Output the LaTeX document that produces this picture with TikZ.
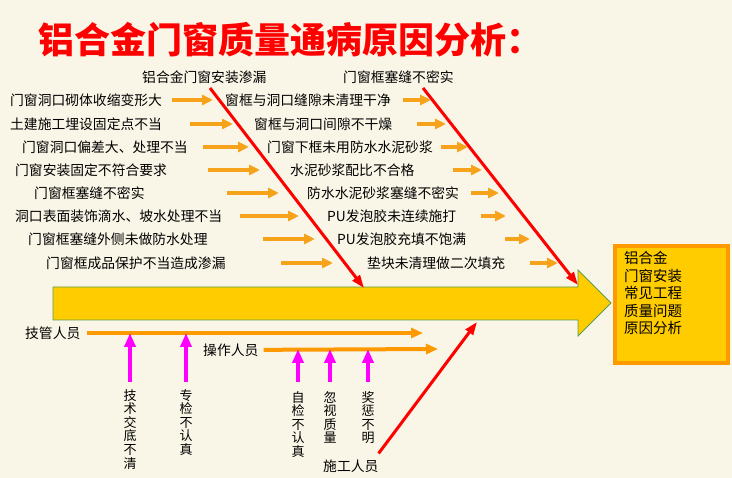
\documentclass[tikz,border=0pt]{standalone}
\usepackage{fontspec}
\setmainfont{Noto Sans CJK SC}
\usetikzlibrary{arrows.meta,positioning}
\definecolor{bgcream}{HTML}{FAF6E7}
\definecolor{boneorange}{HTML}{F7A21B}
\definecolor{lineorange}{HTML}{FF9900}
\definecolor{spineyellow}{HTML}{FFCC00}
\definecolor{spinegreen}{HTML}{5C9E4A}
\definecolor{checkpink}{HTML}{FF00FF}
\newcommand\tightlines{\lineskiplimit-10pt\lineskip0pt\relax}
\tikzset{
  cause/.style={font=\fontsize{13.8}{16}\selectfont, inner sep=0pt, anchor=west},
  causearrow/.style={draw=boneorange, line width=3.5pt, -{Triangle[length=11pt,width=10pt]}},
  bone/.style={draw=red, line width=3pt, -{Triangle[length=13pt,width=9pt]}},
  staffline/.style={draw=lineorange, line width=4pt, -{Triangle[length=12pt,width=10pt]}},
  checkarrow/.style={draw=checkpink, line width=4.5pt, -{Triangle[length=14pt,width=11pt]}},
  vlabel/.style={font=\fontsize{13}{13.6}\selectfont\tightlines, inner sep=0pt, align=center, anchor=north},
}
\begin{document}
\begin{tikzpicture}[x=1pt,y=-1pt]
  \fill[bgcream] (0,0) rectangle (732,478);
  \useasboundingbox (0,0) rectangle (732,478);

  % title
  \node[anchor=west, inner sep=0pt, text=red, font=\fontsize{36}{40}\selectfont\bfseries] (title) at (38,40) {铝合金门窗质量通病原因分析：};

  % main bone
  \draw[fill=spineyellow, draw=spinegreen, line width=0.8pt]
    (53,287) -- (578,287) -- (578,270) -- (611,303) -- (578,336) -- (578,320) -- (53,320) -- cycle;
  \node[draw=lineorange, fill=spineyellow, line width=4pt, minimum width=113pt, minimum height=117pt, anchor=north west] (box) at (613,244) {};
  \node[anchor=north west, inner sep=0pt, align=left, font=\fontsize{14.5}{17.5}\selectfont] (boxlbl) at ([xshift=11pt,yshift=-7pt]box.north west) {铝合金\\门窗安装\\常见工程\\质量问题\\原因分析};

  % top labels and bones
  \node[cause] (t1) at (142,77) {铝合金门窗安装渗漏};
  \node[cause] (t2) at (343,77) {门窗框塞缝不密实};
  \coordinate (b1top) at (210,88);
  \coordinate (b1end) at (364,288);
  \coordinate (b2top) at (423,88);
  \coordinate (b2end) at (578,285);
  \draw[bone] (b1top) -- (b1end);
  \draw[bone] (b2top) -- (b2end);

  % causes, left column
  \node[cause] (l1) at (10,100) {门窗洞口砌体收缩变形大};
  \node[cause] (l2) at (10,124) {土建施工埋设固定点不当};
  \node[cause] (l3) at (22,147) {门窗洞口偏差大、处理不当};
  \node[cause] (l4) at (15,170) {门窗安装固定不符合要求};
  \node[cause] (l5) at (34,193) {门窗框塞缝不密实};
  \node[cause] (l6) at (15,216) {洞口表面装饰滴水、坡水处理不当};
  \node[cause] (l7) at (28,239) {门窗框塞缝外侧未做防水处理};
  \node[cause] (l8) at (46,263) {门窗框成品保护不当造成渗漏};
  \coordinate (le1) at (213,100);
  \coordinate (le2) at (233,124);
  \coordinate (le3) at (249,147);
  \coordinate (le4) at (260,170);
  \coordinate (le5) at (279,193);
  \coordinate (le6) at (299,216);
  \coordinate (le7) at (315,239);
  \coordinate (le8) at (333,263);
  \draw[causearrow, shorten <=10pt] (l1) -- (le1);
  \draw[causearrow, shorten <=28pt] (l2) -- (le2);
  \draw[causearrow, shorten <=15pt] (l3) -- (le3);
  \draw[causearrow, shorten <=41pt] (l4) -- (le4);
  \draw[causearrow, shorten <=82pt] (l5) -- (le5);
  \draw[causearrow, shorten <=18pt] (l6) -- (le6);
  \draw[causearrow, shorten <=55pt] (l7) -- (le7);
  \draw[causearrow, shorten <=55pt] (l8) -- (le8);

  % causes, right column
  \node[cause] (r1) at (225,100) {窗框与洞口缝隙未清理干净};
  \node[cause] (r2) at (254,124) {窗框与洞口间隙不干燥};
  \node[cause] (r3) at (267,147) {门窗下框未用防水水泥砂浆};
  \node[cause] (r4) at (290,170) {水泥砂浆配比不合格};
  \node[cause] (r5) at (307,193) {防水水泥砂浆塞缝不密实};
  \node[cause] (r6) at (327,216) {PU发泡胶未连续施打};
  \node[cause] (r7) at (337,239) {PU发泡胶充填不饱满};
  \node[cause] (r8) at (367,263) {垫块未清理做二次填充};
  \coordinate (re1) at (431,100);
  \coordinate (re2) at (446,124);
  \coordinate (re3) at (468,147);
  \coordinate (re4) at (482,170);
  \coordinate (re5) at (499,193);
  \coordinate (re6) at (506,216);
  \coordinate (re7) at (530,239);
  \coordinate (re8) at (558,263);
  \draw[causearrow, shorten <=12pt] (r1) -- (re1);
  \draw[causearrow, shorten <=25pt] (r2) -- (re2);
  \draw[causearrow, shorten <=8pt] (r3) -- (re3);
  \draw[causearrow, shorten <=38pt] (r4) -- (re4);
  \draw[causearrow, shorten <=12pt] (r5) -- (re5);
  \draw[causearrow, shorten <=25pt] (r6) -- (re6);
  \draw[causearrow, shorten <=39pt] (r7) -- (re7);
  \draw[causearrow, shorten <=25pt] (r8) -- (re8);

  % people
  \node[cause] (p1) at (25,333) {技管人员};
  \node[cause] (p2) at (203,350) {操作人员};
  \coordinate (g1) at (423,333);
  \coordinate (g2) at (438,349);
  \draw[staffline, shorten <=6pt] (p1) -- (g1);
  \draw[staffline, shorten <=5pt] (p2) -- (g2);

  \node[vlabel] (v1) at (130,389) {技\\术\\交\\底\\不\\清};
  \node[vlabel] (v2) at (186,389) {专\\检\\不\\认\\真};
  \node[vlabel] (v3) at (298,391) {自\\检\\不\\认\\真};
  \node[vlabel] (v4) at (330,391) {忽\\视\\质\\量};
  \node[vlabel] (v5) at (368,391) {奖\\惩\\不\\明};
  \draw[checkarrow, shorten <=7pt] (v1.north) -- (v1.north |- g1);
  \draw[checkarrow, shorten <=7pt] (v2.north) -- (v2.north |- g1);
  \draw[checkarrow, shorten <=9pt] (v3.north) -- (v3.north |- g2);
  \draw[checkarrow, shorten <=9pt] (v4.north) -- (v4.north |- g2);
  \draw[checkarrow, shorten <=9pt] (v5.north) -- (v5.north |- g2);

  \node[cause] (w) at (323,466) {施工人员};
  \coordinate (b3end) at (477,322);
  \draw[bone] ([yshift=6pt]w.north east) -- (b3end);
\end{tikzpicture}
\end{document}
